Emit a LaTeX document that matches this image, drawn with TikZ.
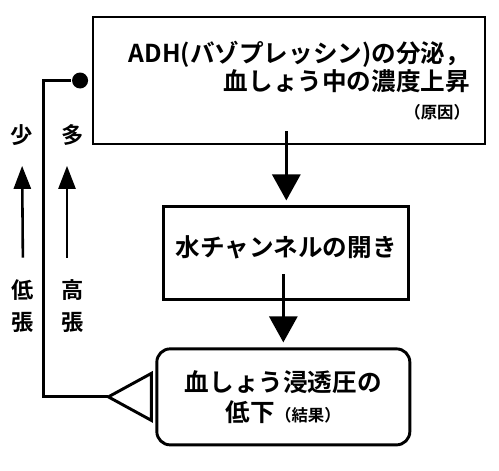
\documentclass[tikz,border=0pt]{standalone}
\usepackage{fontspec}
\setmainfont{Noto Sans CJK JP}[BoldFont={Noto Sans CJK JP Bold}]
\usetikzlibrary{arrows.meta,positioning}

\begin{document}
\begin{tikzpicture}[x=0.03cm,y=-0.03cm,>={Triangle[width=0.84cm,length=0.78cm]},shorten >=0.15cm,
    line width=2.5pt,node distance=1.8cm,
    box/.style={draw,rectangle,font=\fontsize{21}{24}\selectfont\bfseries},
    side/.style={align=center,font=\fontsize{19}{27}\selectfont\bfseries},
    rise/.style={-{Triangle[width=0.51cm,length=0.69cm]},line width=2.2pt}]
    \useasboundingbox (0,0) rectangle (499,470);

    \node[box, minimum width=11.76cm, minimum height=3.81cm, text width=10.86cm, align=right] (cause) at (289,80.5)
        {ADH(バゾプレッシン)の分泌，\\血しょう中の濃度上昇\\{\fontsize{14}{15}\selectfont （原因）}\hspace*{0.1cm}};
    \node[box, minimum width=7.35cm, minimum height=2.79cm, text depth=0.45cm] (channel) [below=1.8cm of cause, xshift=-0.08cm] {水チャンネルの開き};
    \node[box, rounded corners=0.4cm, minimum width=7.59cm, minimum height=2.88cm, align=center,
        font=\fontsize{21}{26}\selectfont\bfseries] (result) [below=1.38cm of channel, xshift=-0.09cm]
        {血しょう浸透圧の\\低下{\fontsize{14}{15}\selectfont （結果）}};
    \node[circle, fill, inner sep=0pt, minimum size=0.48cm] (dot) [left=0.06cm of cause] {};

    \node[side] (few) at (22,135) {少};
    \node[side] (many) at (73,135) {多};
    \node[side] (hypo) at (23,306) {低\\張};
    \node[side] (hyper) at (73,306) {高\\張};

    \path[->] (channel.north |- cause.south) ++(0,-14) edge (channel.north);
    \path[->] (result.north |- channel.south) ++(0,-27) edge (result.north);

    % feedback
    \draw ([xshift=-0.12cm]result.west) ++(0,-23.5) -- ++(-43,23.5) coordinate (apex) -- ++(43,23.5) -- cycle;
    \draw[shorten >=0pt] (apex) -- ++(-65,0) |- (dot);

    \draw[rise, shorten <=0.5cm, shorten >=0.45cm] (hypo.north) -- (few.south);
    \draw[rise, shorten <=0.5cm, shorten >=0.45cm] ([xshift=-0.18cm]hyper.north) -- ([xshift=-0.18cm]many.south);
\end{tikzpicture}
\end{document}
